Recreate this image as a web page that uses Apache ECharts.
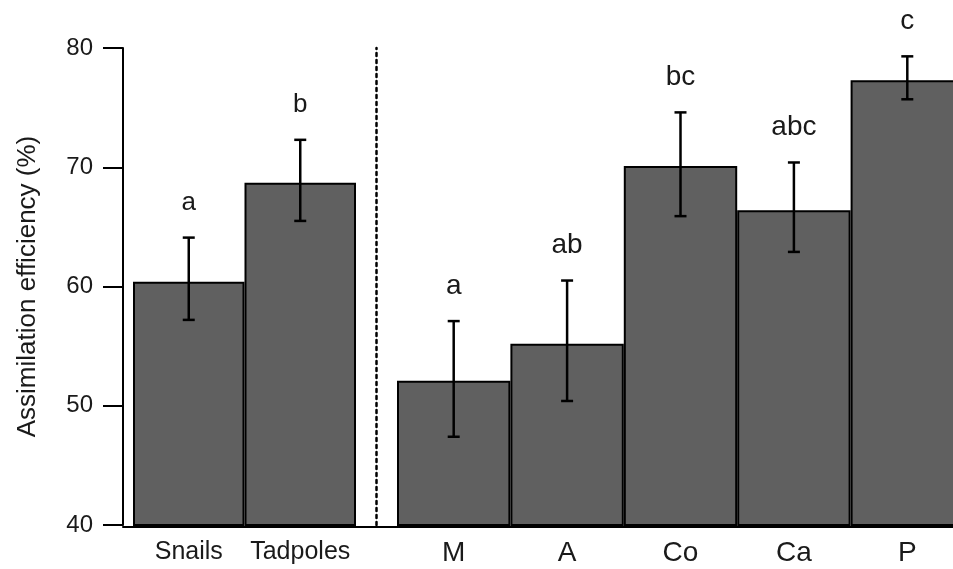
<!DOCTYPE html>
<html><head><meta charset="utf-8">
<script src="https://cdn.jsdelivr.net/npm/echarts/dist/echarts.min.js"></script>
<style>html,body{margin:0;padding:0;background:#fff}#c{width:953px;height:569px}</style>
</head><body><div id="c"></div>
<script>
// ---- data ----
const groupCategories = ['Snails', 'Tadpoles'];
const groupMeans = [60.4, 68.7];
const groupLow = [57.2, 65.5];
const groupHigh = [64.1, 72.3];
const groupLetters = ['a', 'b'];

const dietCategories = ['M', 'A', 'Co', 'Ca', 'P'];
const dietMeans = [52.1, 55.2, 70.1, 66.4, 77.3];
const dietLow = [47.4, 50.4, 65.9, 62.9, 75.7];
const dietHigh = [57.1, 60.5, 74.6, 70.4, 79.3];
const dietLetters = ['a', 'ab', 'bc', 'abc', 'c'];

const yMin = 40, yMax = 80, yStep = 10;
const yTitle = 'Assimilation efficiency (%)';

// ---- styling ----
const FONT = '"Liberation Sans", Arial, Helvetica, sans-serif';
const TXT = '#1a1a1a';
const TOP = 48, H = 477;

function errRender(letters, fontSize) {
  return function (params, api) {
    const x = api.value(0);
    const lo = api.coord([x, api.value(1)]);
    const hi = api.coord([x, api.value(2)]);
    const cap = 6;
    const st = { stroke: '#000', lineWidth: 2.5 };
    return {
      type: 'group',
      children: [
        { type: 'line', shape: { x1: lo[0], y1: lo[1], x2: hi[0], y2: hi[1] }, style: st },
        { type: 'line', shape: { x1: hi[0] - cap, y1: hi[1], x2: hi[0] + cap, y2: hi[1] }, style: st },
        { type: 'line', shape: { x1: lo[0] - cap, y1: lo[1], x2: lo[0] + cap, y2: lo[1] }, style: st },
        { type: 'text', x: hi[0], y: hi[1] - 35,
          style: { text: letters[params.dataIndex], fontSize: fontSize, fontFamily: FONT,
                   fill: TXT, align: 'center', verticalAlign: 'middle' } }
      ]
    };
  };
}

const hiddenY = (gi) => ({ gridIndex: gi, type: 'value', min: yMin, max: yMax, show: false });

const chart = echarts.init(document.getElementById('c'), null, { renderer: 'canvas' });
chart.setOption({
  animation: false,
  backgroundColor: '#fff',
  grid: [
    { left: 123, top: TOP, width: 830, height: H, outerBoundsMode: 'none', containLabel: false },
    { left: 123, top: TOP, width: 253, height: H, outerBoundsMode: 'none', containLabel: false },
    { left: 133, top: TOP, width: 223, height: H, outerBoundsMode: 'none', containLabel: false },
    { left: 397, top: TOP, width: 567, height: H, outerBoundsMode: 'none', containLabel: false }
  ],
  xAxis: [
    { gridIndex: 0, type: 'value', min: 0, max: 1, offset: 2,
      axisLine: { show: true, onZero: false, lineStyle: { color: '#000', width: 2 } },
      axisTick: { show: false }, axisLabel: { show: false }, splitLine: { show: false } },
    { gridIndex: 1, type: 'value', min: 0, max: 1, show: false },
    { gridIndex: 2, type: 'category', data: groupCategories,
      axisLine: { show: false }, axisTick: { show: false }, splitLine: { show: false },
      axisLabel: { interval: 0, fontSize: 25, fontFamily: FONT, color: TXT, margin: 15 } },
    { gridIndex: 3, type: 'category', data: dietCategories,
      axisLine: { show: false }, axisTick: { show: false }, splitLine: { show: false },
      axisLabel: { interval: 0, fontSize: 28, fontFamily: FONT, color: TXT, margin: 14 } }
  ],
  yAxis: [
    { gridIndex: 0, type: 'value', min: yMin, max: yMax, interval: yStep,
      name: yTitle, nameLocation: 'middle', nameGap: 82,
      nameTextStyle: { fontSize: 26, fontFamily: FONT, color: TXT },
      axisLine: { show: true, onZero: false, lineStyle: { color: '#000', width: 2 } },
      axisTick: { show: true, length: 20, lineStyle: { color: '#000', width: 2 } },
      axisLabel: { fontSize: 24, fontFamily: FONT, color: TXT, margin: 30 },
      splitLine: { show: false } },
    { gridIndex: 1, type: 'value', min: yMin, max: yMax, position: 'right',
      axisLine: { show: true, onZero: false, lineStyle: { color: '#000', width: 2.5, type: [3, 4] } },
      axisTick: { show: false }, axisLabel: { show: false }, splitLine: { show: false } },
    hiddenY(2),
    hiddenY(3)
  ],
  series: [
    { type: 'bar', xAxisIndex: 2, yAxisIndex: 2, data: groupMeans, barWidth: '100%',
      itemStyle: { color: '#606060', borderColor: '#000', borderWidth: 2 } },
    { type: 'custom', xAxisIndex: 2, yAxisIndex: 2,
      data: groupCategories.map((c, i) => [i, groupLow[i], groupHigh[i]]),
      renderItem: errRender(groupLetters, 26), z: 5 },
    { type: 'bar', xAxisIndex: 3, yAxisIndex: 3, data: dietMeans, barWidth: '100%',
      itemStyle: { color: '#606060', borderColor: '#000', borderWidth: 2 } },
    { type: 'custom', xAxisIndex: 3, yAxisIndex: 3,
      data: dietCategories.map((c, i) => [i, dietLow[i], dietHigh[i]]),
      renderItem: errRender(dietLetters, 28), z: 5 }
  ]
});
</script>
</body></html>
